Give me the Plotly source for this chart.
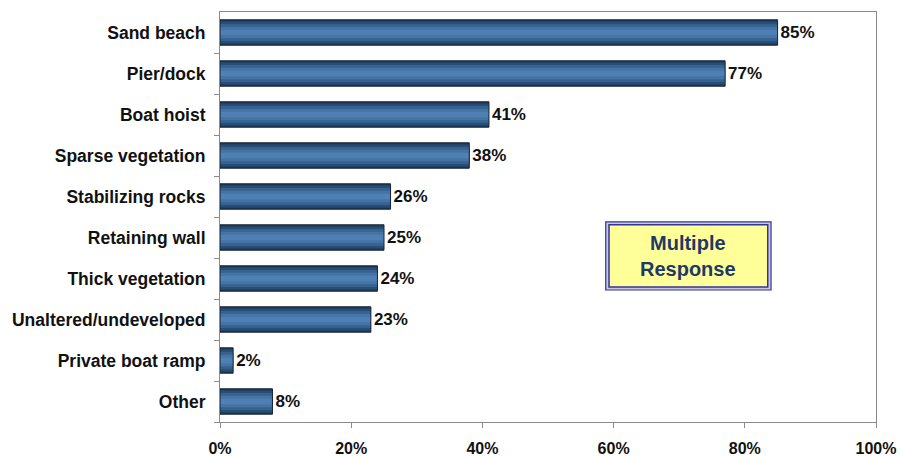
import plotly.graph_objects as go

# Shoreline features reported by respondents (percent, multiple response)
categories = [
    "Sand beach", "Pier/dock", "Boat hoist", "Sparse vegetation",
    "Stabilizing rocks", "Retaining wall", "Thick vegetation",
    "Unaltered/undeveloped", "Private boat ramp", "Other",
]
values = [85, 77, 41, 38, 26, 25, 24, 23, 2, 8]
x_ticks = [0, 20, 40, 60, 80, 100]
x_tick_labels = ["0%", "20%", "40%", "60%", "80%", "100%"]

FONT = "Arial, Liberation Sans, sans-serif"
AXIS_GREY = "#8a8a8a"

fig = go.Figure()

# Layered bars of narrowing width give the cylindrical shading
layers = [
    (0.62, "#1d3857"),
    (0.54, "#294e76"),
    (0.42, "#376290"),
    (0.28, "#4474a6"),
    (0.14, "#4f80b3"),
]
for w, c in layers:
    fig.add_trace(go.Bar(
        y=categories, x=values, orientation="h", width=w,
        marker=dict(color=c, line=dict(width=0)),
        hoverinfo="skip", showlegend=False,
    ))

# Outline and value labels on top
fig.add_trace(go.Bar(
    y=categories, x=values, orientation="h", width=0.62,
    marker=dict(color="rgba(0,0,0,0)", line=dict(color="#16263a", width=1)),
    text=[f"{v}%" for v in values], textposition="outside",
    textfont=dict(family=FONT, size=17, color="#111111"),
    texttemplate="<b>%{text}</b>", cliponaxis=False,
    showlegend=False,
))

# "Multiple Response" note box with a double border
fig.add_shape(type="rect", xref="x", yref="paper",
              x0=58.8, x1=84.0, y0=0.322, y1=0.488,
              line=dict(color="#333399", width=1.2), fillcolor="#c9c9dc", layer="above")
fig.add_shape(type="rect", xref="x", yref="paper",
              x0=59.3, x1=83.5, y0=0.329, y1=0.481,
              line=dict(color="#333399", width=1.5), fillcolor="#ffff99", layer="above")
fig.add_annotation(x=71.4, y=0.405, xref="x", yref="paper",
                   text="<b>Multiple<br>Response</b>", showarrow=False,
                   font=dict(family=FONT, size=20, color="#1f3868"),
                   align="center")

fig.update_layout(
    width=901, height=456,
    margin=dict(l=220, r=25, t=12, b=34, autoexpand=False),
    plot_bgcolor="white", paper_bgcolor="white",
    barmode="overlay", bargap=0.38,
    font=dict(family=FONT, size=17, color="#111111"),
    xaxis=dict(
        range=[0, 100], tickvals=x_ticks, ticktext=[f"<b>{t}</b>" for t in x_tick_labels],
        showgrid=False, zeroline=False, automargin=False,
        showline=True, linecolor=AXIS_GREY, linewidth=1, mirror=True,
        ticks="outside", ticklen=5, tickcolor=AXIS_GREY,
        ticklabelstandoff=7,
        tickfont=dict(family=FONT, size=16, color="#111111"),
    ),
    yaxis=dict(
        categoryorder="array", categoryarray=categories[::-1],
        tickvals=categories, ticktext=[f"<b>{c}</b>" for c in categories],
        showgrid=False, zeroline=False, automargin=False,
        showline=True, linecolor=AXIS_GREY, linewidth=1, mirror=True,
        ticks="outside", ticklen=5, tickcolor=AXIS_GREY,
        tickson="boundaries", ticklabelstandoff=10,
        tickfont=dict(family=FONT, size=17.5, color="#111111"),
    ),
)

fig.write_html("out.html")
